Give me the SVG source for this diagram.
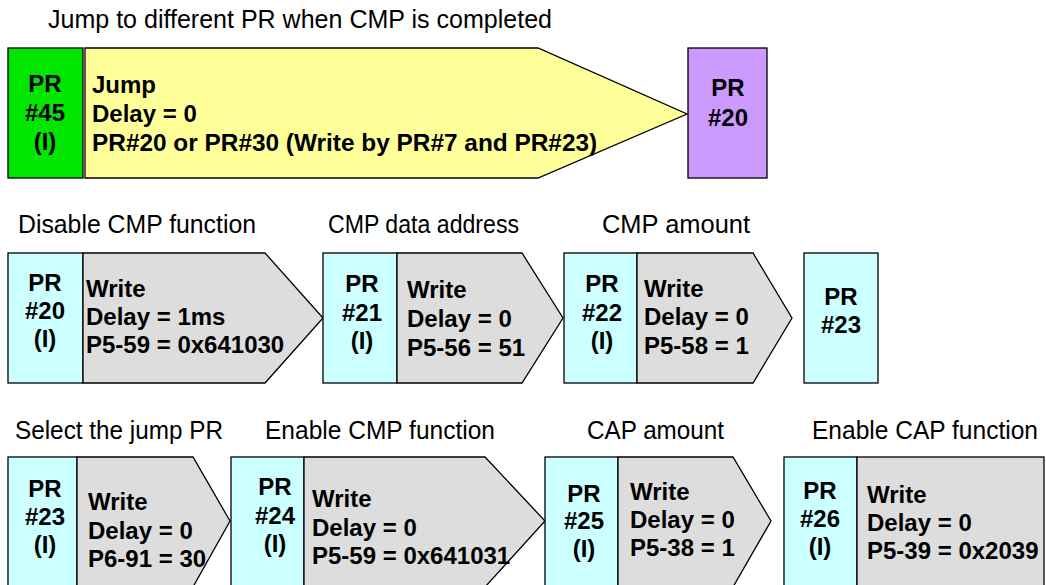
<svg xmlns="http://www.w3.org/2000/svg" width="1046" height="585" viewBox="0 0 1046 585">
<style>
.lbl{font-family:"Liberation Sans",Arial,sans-serif;font-size:25px;fill:#000}
.b{font-family:"Liberation Sans",Arial,sans-serif;font-size:24px;font-weight:bold;fill:#000}
.c{text-anchor:middle}
.sh{stroke:#000;stroke-width:1.3;stroke-linejoin:miter}
.cy{fill:#ccffff}
.gy{fill:#dddddd}
</style>
<rect width="1046" height="585" fill="#ffffff"/>
<g id="labels">
<text class="lbl" x="48" y="28" textLength="504" lengthAdjust="spacingAndGlyphs">Jump to different PR when CMP is completed</text>
<text class="lbl" x="18" y="233" textLength="238" lengthAdjust="spacingAndGlyphs">Disable CMP function</text>
<text class="lbl" x="328" y="233" textLength="191" lengthAdjust="spacingAndGlyphs">CMP data address</text>
<text class="lbl" x="602" y="233" textLength="148" lengthAdjust="spacingAndGlyphs">CMP amount</text>
<text class="lbl" x="15" y="439" textLength="208" lengthAdjust="spacingAndGlyphs">Select the jump PR</text>
<text class="lbl" x="265" y="439" textLength="230" lengthAdjust="spacingAndGlyphs">Enable CMP function</text>
<text class="lbl" x="587" y="439" textLength="137" lengthAdjust="spacingAndGlyphs">CAP amount</text>
<text class="lbl" x="812" y="439" textLength="226" lengthAdjust="spacingAndGlyphs">Enable CAP function</text>
</g>
<g id="connectors"></g>
<g id="pr45">
<rect class="sh" x="8" y="48" width="75" height="130" fill="#00e600"/>
<text class="b c" x="45" y="92">PR</text><text class="b c" x="45" y="121">#45</text><text class="b c" x="45" y="150">(I)</text>
</g>
<g id="jump">
<polygon class="sh" points="85,48 538,48 687,114 538,178 85,178" fill="#ffff99"/>
<text class="b" x="92" y="93">Jump</text><text class="b" x="92" y="122">Delay = 0</text><text class="b" x="92" y="151" style="font-size:24.4px">PR#20 or PR#30 (Write by PR#7 and PR#23)</text>
</g>
<g id="pr20-target">
<rect class="sh" x="688" y="48" width="79" height="130" fill="#cc99ff"/>
<text class="b c" x="728" y="96">PR</text><text class="b c" x="728" y="126">#20</text>
</g>
<g id="pr20">
<rect class="sh cy" x="8" y="253" width="75" height="130"/>
<text class="b c" x="45" y="291">PR</text><text class="b c" x="45" y="319">#20</text><text class="b c" x="45" y="347">(I)</text>
<polygon class="sh gy" points="83,253 265,253 323,318 265,383 83,383"/>
<text class="b" x="86" y="297">Write</text><text class="b" x="86" y="325">Delay = 1ms</text><text class="b" x="86" y="353">P5-59 = 0x641030</text>
</g>
<g id="pr21">
<rect class="sh cy" x="323" y="253" width="74" height="130"/>
<text class="b c" x="362" y="292">PR</text><text class="b c" x="362" y="321">#21</text><text class="b c" x="362" y="349">(I)</text>
<polygon class="sh gy" points="397,253 522,253 563,318 522,383 397,383"/>
<text class="b" x="407" y="298">Write</text><text class="b" x="407" y="327">Delay = 0</text><text class="b" x="407" y="356">P5-56 = 51</text>
</g>
<g id="pr22">
<rect class="sh cy" x="564" y="253" width="73" height="130"/>
<text class="b c" x="602" y="292">PR</text><text class="b c" x="602" y="321">#22</text><text class="b c" x="602" y="349">(I)</text>
<polygon class="sh gy" points="637,253 753,253 792,318 753,383 637,383"/>
<text class="b" x="644" y="297">Write</text><text class="b" x="644" y="325">Delay = 0</text><text class="b" x="644" y="354">P5-58 = 1</text>
</g>
<g id="pr23-next">
<rect class="sh cy" x="804" y="253" width="74" height="130"/>
<text class="b c" x="841" y="305">PR</text><text class="b c" x="841" y="333">#23</text>
</g>
<g id="pr23">
<rect class="sh cy" x="8" y="457" width="69" height="130"/>
<text class="b c" x="45" y="497">PR</text><text class="b c" x="45" y="525">#23</text><text class="b c" x="45" y="553">(I)</text>
<polygon class="sh gy" points="77,457 193,457 230,521 193,587 77,587"/>
<text class="b" x="88" y="510">Write</text><text class="b" x="88" y="539">Delay = 0</text><text class="b" x="88" y="567">P6-91 = 30</text>
</g>
<g id="pr24">
<rect class="sh cy" x="231" y="457" width="73" height="130"/>
<text class="b c" x="275" y="495">PR</text><text class="b c" x="275" y="524">#24</text><text class="b c" x="275" y="552">(I)</text>
<polygon class="sh gy" points="304,457 485,457 545,521 485,587 304,587"/>
<text class="b" x="312" y="507">Write</text><text class="b" x="312" y="536">Delay = 0</text><text class="b" x="312" y="564">P5-59 = 0x641031</text>
</g>
<g id="pr25">
<rect class="sh cy" x="545" y="457" width="73" height="130"/>
<text class="b c" x="584" y="502">PR</text><text class="b c" x="584" y="529">#25</text><text class="b c" x="584" y="557">(I)</text>
<polygon class="sh gy" points="618,457 733,457 771,521 733,587 618,587"/>
<text class="b" x="630" y="500">Write</text><text class="b" x="630" y="528">Delay = 0</text><text class="b" x="630" y="556">P5-38 = 1</text>
</g>
<g id="pr26">
<rect class="sh cy" x="784" y="457" width="73" height="130"/>
<text class="b c" x="820" y="499">PR</text><text class="b c" x="820" y="527">#26</text><text class="b c" x="820" y="555">(I)</text>
<rect class="sh gy" x="857" y="457" width="187" height="130"/>
<text class="b" x="867" y="503">Write</text><text class="b" x="867" y="531">Delay = 0</text><text class="b" x="867" y="559">P5-39 = 0x2039</text>
</g>
</svg>
